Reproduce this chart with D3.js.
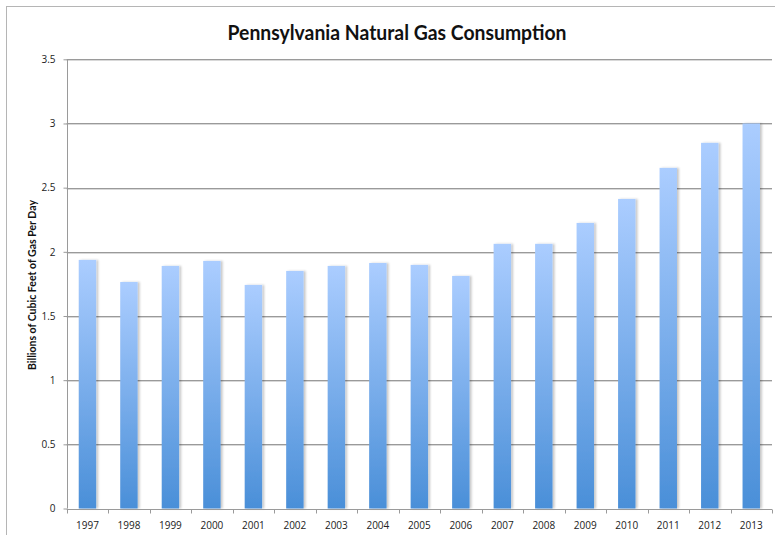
<!DOCTYPE html>
<html>
<head>
<meta charset="utf-8">
<script src="https://cdn.jsdelivr.net/npm/d3@7"></script>
<style>
  html, body { margin: 0; padding: 0; background: #fff; }
  svg { display: block; }
</style>
</head>
<body>
<svg id="chart" width="775" height="535"></svg>
<script>
const years = ["1997","1998","1999","2000","2001","2002","2003","2004","2005","2006","2007","2008","2009","2010","2011","2012","2013"];
const consumption = [1.937,1.765,1.89,1.929,1.742,1.851,1.89,1.913,1.898,1.812,2.062,2.062,2.225,2.412,2.654,2.849,3.0];
const yTicks = [0,0.5,1,1.5,2,2.5,3,3.5];
const chartTitle = "Pennsylvania Natural Gas Consumption";
const yTitle = "Billions of Cubic Feet of Gas Per Day";

(function () {
const svg = d3.select("#chart");
const W = 775, H = 535;
const pLeft = 66.7, pRight = 772, pTop = 59.3, pBottom = 508.5;

const defs = svg.append("defs");
const grad = defs.append("linearGradient").attr("id","barGrad")
  .attr("x1",0).attr("x2",0).attr("y1",0).attr("y2",1);
grad.append("stop").attr("offset","0%").attr("stop-color","#abcdff");
grad.append("stop").attr("offset","100%").attr("stop-color","#4a8fd8");
const f = defs.append("filter").attr("id","shadow").attr("x","-20%").attr("y","-5%").attr("width","150%").attr("height","110%");
f.append("feDropShadow").attr("dx",2).attr("dy",0).attr("stdDeviation",1).attr("flood-color","#000").attr("flood-opacity",0.22);

// outer frame
svg.append("rect").attr("x",6.5).attr("y",6.5).attr("width",W+10).attr("height",H+10)
  .attr("fill","none").attr("stroke","#b5b5b5").attr("stroke-width",1);

const x = d3.scaleBand().domain(years).range([pLeft, pRight]).paddingInner(0.58).paddingOuter(0.29);
const y = d3.scaleLinear().domain([0,3.5]).range([pBottom, pTop]);

// gridlines
const grid = svg.append("g");
yTicks.filter(t => t > 0).forEach(t => {
  grid.append("line").attr("x1",pLeft).attr("x2",pRight)
    .attr("y1",Math.round(y(t))+1.5).attr("y2",Math.round(y(t))+1.5)
    .attr("stroke","#d8d8d8").attr("stroke-width",1);
  grid.append("line").attr("x1",pLeft).attr("x2",pRight)
    .attr("y1",Math.round(y(t))+0.5).attr("y2",Math.round(y(t))+0.5)
    .attr("stroke","#9a9a9a").attr("stroke-width",1);
});

// bars
svg.append("g").selectAll("rect").data(years).join("rect")
  .attr("x", d => x(d))
  .attr("width", x.bandwidth())
  .attr("y", (d,i) => y(consumption[i]))
  .attr("height", (d,i) => pBottom - y(consumption[i]))
  .attr("fill","url(#barGrad)")
  .attr("filter","url(#shadow)");

// y axis
const yAxis = d3.axisLeft(y).tickValues(yTicks).tickSize(4).tickPadding(8)
  .tickFormat(d => d3.format("")(d));
const gy = svg.append("g").attr("transform",`translate(${Math.round(pLeft)+0.5},0)`).call(yAxis);
gy.select(".domain").attr("stroke","#9a9a9a").attr("d",`M0,${pBottom}V${pTop}`);
gy.selectAll(".tick line").attr("stroke","#9a9a9a");
gy.selectAll(".tick text").attr("font-family","Open Sans, Lato, sans-serif").attr("font-size",10).attr("fill","#222");

// x axis
const gx = svg.append("g").attr("transform",`translate(0,${Math.round(pBottom)+0.5})`);
gx.append("line").attr("x1",pLeft).attr("x2",pRight).attr("stroke","#9a9a9a");
const bounds = d3.range(years.length + 1).map(i => pLeft + i * (pRight - pLeft) / years.length);
gx.selectAll("line.tk").data(bounds).join("line").attr("class","tk")
  .attr("x1", d => Math.round(d)+0.5).attr("x2", d => Math.round(d)+0.5)
  .attr("y1",0).attr("y2",4).attr("stroke","#9a9a9a");
gx.selectAll("text").data(years).join("text")
  .attr("x", d => x(d) + x.bandwidth()/2)
  .attr("y", 19)
  .attr("text-anchor","middle")
  .attr("font-family","Open Sans, Lato, sans-serif").attr("font-size",10).attr("fill","#222")
  .text(d => d);

// title
svg.append("text").attr("x",397).attr("y",40).attr("text-anchor","middle")
  .attr("font-family","Lato, Open Sans, sans-serif").attr("font-weight","bold").attr("font-size",20)
  .attr("textLength",339).attr("lengthAdjust","spacingAndGlyphs")
  .attr("fill","#111").text(chartTitle);

// y title
svg.append("text").attr("transform","translate(36,285) rotate(-90)")
  .attr("text-anchor","middle")
  .attr("font-family","Lato, Open Sans, sans-serif").attr("font-weight","bold").attr("font-size",10.5)
  .attr("textLength",170).attr("lengthAdjust","spacingAndGlyphs")
  .attr("fill","#111").text(yTitle);
})();
</script>
</body>
</html>
